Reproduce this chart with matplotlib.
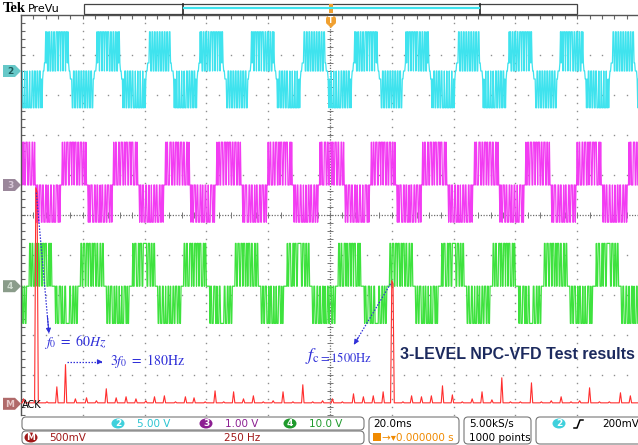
import numpy as np
import matplotlib
matplotlib.use("Agg")
import matplotlib.pyplot as plt
from matplotlib.patches import FancyBboxPatch, Ellipse, Polygon, Rectangle

# scope settings
TIME_PER_DIV_MS = 20.0
SAMPLE_RATE_KS = 5.0
RECORD_POINTS = 1000
FUNDAMENTAL_HZ = 60.0

CH2_VOLTS_PER_DIV = 5.0
CH3_VOLTS_PER_DIV = 1.0
CH4_VOLTS_PER_DIV = 10.0
MATH_MV_PER_DIV = 500.0
MATH_HZ_PER_DIV = 250.0

# ground marker positions (divisions from screen centre)
ch2_offset = 3.6
ch3_offset = 0.75
ch4_offset = -1.78
math_offset = -4.72

# switching state over one positive half cycle, negative half mirrors it
ch2_half = "011212200222002220022200222002220022200222002212100"
ch3_half = "0010011000111001110011101110011100111000110010"
ch4_half = "0001100111000111011100111011100111000110011000"

# volts for each state, positive / negative half
ch2_pos_v = [0.0, 1.0, 4.9]
ch2_neg_v = [0.0, -1.0, -4.6]
ch3_pos_v = [0.0, 1.07]
ch3_neg_v = [0.0, -0.93]
ch4_pos_v = [0.0, 10.7]
ch4_neg_v = [0.0, -9.3]

# start of the positive half cycle in ms (modulo one period)
ch2_start_ms = 7.4
ch3_start_ms = 12.95
ch4_start_ms = 2.15

# FFT of the math channel
fft_peak_hz = [10, 60, 65, 105, 145, 180, 220, 265, 305, 345,
               385, 425, 465, 505, 540, 580, 625, 665, 700, 745,
               785, 820, 860, 900, 940, 980, 1020, 1060, 1100, 1140,
               1180, 1220, 1260, 1300, 1345, 1385, 1425, 1465, 1500, 1505,
               1545, 1580, 1620, 1660, 1705, 1745, 1785, 1825, 1865, 1905,
               1945, 1980, 2020, 2065, 2105, 2145, 2185, 2225, 2260, 2300,
               2340, 2380, 2425, 2465]
fft_peak_mv = [62, 2700, 2650, 25, 212, 490, 62, 75, 38, 188,
               75, 88, 62, 38, 88, 100, 25, 88, 75, 25,
               162, 25, 150, 62, 100, 25, 38, 150, 25, 238,
               25, 38, 62, 25, 125, 88, 100, 150, 1540, 1500,
               25, 100, 88, 100, 225, 112, 25, 62, 150, 50,
               325, 25, 25, 262, 25, 38, 88, 25, 38, 200,
               25, 25, 138, 100]
fft_floor_mv = 12
FFT_BIN_HZ = 5.0

CYAN = "#3fe3ee"
MAGENTA = "#f23cf2"
GREEN = "#3ee23e"
RED = "#ff2e2e"
BLUE = "#3030d8"

plt.rcParams["mathtext.fontset"] = "stix"


def pwm_trace(t_ms, start_ms, half, pos_levels, neg_levels):
    period = 1000.0 / FUNDAMENTAL_HZ
    phase = ((t_ms - start_ms) % period) / (period / 2)
    states = np.array([int(c) for c in half])
    idx = np.minimum(((phase % 1) * len(states)).astype(int), len(states) - 1)
    s = states[idx]
    return np.where(phase >= 1, np.array(neg_levels)[s], np.array(pos_levels)[s])


fig = plt.figure(figsize=(6.38, 4.45), dpi=100)
fig.patch.set_facecolor("white")

rect = [21 / 638, 30 / 445, 618 / 638, 400 / 445]
ax = fig.add_axes(rect)
half_span = 5 * TIME_PER_DIV_MS
ax.set_xlim(-half_span, half_span)
ax.set_ylim(-5, 5)
ax.set_xticks([])
ax.set_yticks([])
for side in ["right", "bottom"]:
    ax.spines[side].set_visible(False)
for side in ["left", "top"]:
    ax.spines[side].set_color("#555555")
    ax.spines[side].set_linewidth(1.0)

# graticule
minor_x = np.arange(-half_span, half_span + 0.1, TIME_PER_DIV_MS / 5)
minor_y = np.arange(-5, 5.01, 0.2)
for gx in np.arange(-4, 5) * TIME_PER_DIV_MS:
    if gx == 0:
        continue
    ax.plot(np.full_like(minor_y, gx), minor_y, ls="none", marker="s",
            ms=1.0, mew=0, color="#8e8e8e")
for gy in range(-4, 5):
    if gy == 0:
        continue
    ax.plot(minor_x, np.full_like(minor_x, gy), ls="none", marker="s",
            ms=1.0, mew=0, color="#8e8e8e")
ax.axhline(0, color="#6e6e6e", lw=0.9, ls=(0, (1, 1.2)))
ax.axvline(0, color="#6e6e6e", lw=0.9, ls=(0, (1, 1.2)))
ax.plot(minor_x, np.zeros_like(minor_x), ls="none", marker="|", ms=4,
        mew=0.7, color="#777777")
ax.plot(np.zeros_like(minor_y), minor_y, ls="none", marker="_", ms=4,
        mew=0.7, color="#777777")
ax.plot(np.full_like(minor_y, -half_span), minor_y, ls="none", marker="_",
        ms=6, mew=0.8, color="#666666")
ax.plot(minor_x, np.full_like(minor_x, 5), ls="none", marker="|",
        ms=6, mew=0.8, color="#666666")

# time traces
t_ms = np.arange(RECORD_POINTS) / SAMPLE_RATE_KS - half_span
ch2 = pwm_trace(t_ms, ch2_start_ms, ch2_half, ch2_pos_v, ch2_neg_v)
ch3 = pwm_trace(t_ms, ch3_start_ms, ch3_half, ch3_pos_v, ch3_neg_v)
ch4 = pwm_trace(t_ms, ch4_start_ms, ch4_half, ch4_pos_v, ch4_neg_v)
ax.plot(t_ms, ch2_offset + ch2 / CH2_VOLTS_PER_DIV, color=CYAN, lw=0.9)
ax.plot(t_ms, ch3_offset + ch3 / CH3_VOLTS_PER_DIV, color=MAGENTA, lw=0.9)
ax.plot(t_ms, ch4_offset + ch4 / CH4_VOLTS_PER_DIV, color=GREEN, lw=0.9)

# FFT math trace on its own scale
axf = fig.add_axes(rect)
axf.patch.set_visible(False)
axf.axis("off")
axf.set_xlim(0, 10 * MATH_HZ_PER_DIV)
axf.set_ylim(-(5 + math_offset) * MATH_MV_PER_DIV, (5 - math_offset) * MATH_MV_PER_DIV)
freqs = np.arange(0, 10 * MATH_HZ_PER_DIV + FFT_BIN_HZ, FFT_BIN_HZ)
mag = np.full(len(freqs), float(fft_floor_mv))
for f, m in zip(fft_peak_hz, fft_peak_mv):
    mag[int(round(f / FFT_BIN_HZ))] = m
axf.plot(freqs, mag, color=RED, lw=0.8)


def dotted_arrow(x0, y0, x1, y1):
    axf.plot([x0, x1], [y0, y1], color=BLUE, lw=0.9, ls=(0, (1.2, 1.2)))
    xs = x1 - 0.12 * (x1 - x0)
    ys = y1 - 0.12 * (y1 - y0)
    axf.annotate("", xy=(x1, y1), xytext=(xs, ys),
                 arrowprops=dict(arrowstyle="-|>", color=BLUE, lw=0.8,
                                 mutation_scale=7, shrinkA=0, shrinkB=0))


dotted_arrow(62, 2640, 113, 880)
axf.text(93, 775, r"$f_0\ =\ 60Hz$", color=BLUE, fontsize=10, ha="left", va="center")
dotted_arrow(185, 525, 330, 525)
axf.text(360, 537, r"$3f_0\ =\ 180\mathrm{Hz}$", color=BLUE, fontsize=10,
         ha="left", va="center")
dotted_arrow(1495, 1500, 1347, 740)
axf.text(1149, 600, r"$f_{\mathrm{c=1500Hz}}$", color=BLUE, fontsize=13,
         ha="left", va="center")
axf.text(1533, 612, "3-LEVEL NPC-VFD Test results", color="#1c2a5e",
         fontsize=11.5, fontweight="bold", family="Liberation Sans",
         ha="left", va="center")

# overlay in image pixels for header, markers and status bar
ov = fig.add_axes([0, 0, 1, 1])
ov.set_xlim(0, 638)
ov.set_ylim(445, 0)
ov.axis("off")

ov.text(3, 9, "Tek", fontsize=10.5, fontweight="bold", family="Liberation Serif",
        ha="left", va="center")
ov.text(28, 8.5, "PreVu", fontsize=8, ha="left", va="center")
ov.add_patch(Rectangle((84, 3.5), 493, 10, fc="white", ec="#444444", lw=0.9))
ov.plot([183, 183], [3.5, 13.5], color="#222222", lw=1.2)
ov.plot([480, 480], [3.5, 13.5], color="#222222", lw=1.2)
ov.plot([184, 479], [8, 8], color=CYAN, lw=1.6)
ov.add_patch(Rectangle((329, 4), 4, 9, fc="#f0a030", ec="none"))
ov.add_patch(FancyBboxPatch((326, 16), 10, 9, boxstyle="round,pad=0,rounding_size=3",
                            fc="#f0a030", ec="none"))
ov.add_patch(Polygon([(328, 25), (334, 25), (331, 28)], fc="#f0a030", ec="none"))
ov.text(331, 20.5, "T", color="white", fontsize=5.5, fontweight="bold",
        ha="center", va="center")


def channel_marker(off_div, label, fc, tc):
    y = 215 - off_div * 40
    ov.add_patch(Polygon([(3, y - 6), (15, y - 6), (21, y), (15, y + 6), (3, y + 6)],
                         fc=fc, ec="none"))
    ov.text(10, y + 0.5, label, color=tc, fontsize=6.5, fontweight="bold",
            ha="center", va="center")


channel_marker(ch2_offset, "2", "#66c8c8", "#1f5c5c")
channel_marker(ch3_offset, "3", "#9a879a", "#d8c8d8")
channel_marker(ch4_offset, "4", "#8a9c8a", "#d0dcd0")
channel_marker(math_offset, "M", "#b06a6a", "#e8caca")
ov.text(22, 405, "ACK", fontsize=7, ha="left", va="center")


def rbox(x0, y0, x1, y1):
    ov.add_patch(FancyBboxPatch((x0, y0), x1 - x0, y1 - y0,
                                boxstyle="round,pad=0,rounding_size=4",
                                fc="white", ec="#777777", lw=0.8))


def badge(x, y, label, fc):
    ov.add_patch(Ellipse((x, y), 13, 10, fc=fc, ec="none"))
    ov.text(x, y + 0.5, label, color="white", fontsize=6.5, fontweight="bold",
            ha="center", va="center")


rbox(22, 417, 364, 430)
rbox(22, 431, 364, 444)
rbox(369, 417, 459, 444)
rbox(464, 417, 531, 444)
rbox(536, 417, 645, 444)

badge(118, 423.5, "2", "#3fd0dc")
ov.text(137, 424, "5.00 V", color="#2cc4d2", fontsize=7.5, ha="left", va="center")
badge(206, 423.5, "3", "#8c1f92")
ov.text(225, 424, "1.00 V", color="#8c1f92", fontsize=7.5, ha="left", va="center")
badge(290, 423.5, "4", "#1f9a2c")
ov.text(309, 424, "10.0 V", color="#1f9a2c", fontsize=7.5, ha="left", va="center")
badge(31, 437.5, "M", "#a01818")
ov.text(49, 438, "500mV", color="#a01818", fontsize=7.5, ha="left", va="center")
ov.text(224, 438, "250 Hz", color="#a01818", fontsize=7.5, ha="left", va="center")

ov.text(373, 424, "20.0ms", fontsize=7.5, ha="left", va="center")
ov.add_patch(Rectangle((373, 433), 8, 8, fc="#f08a00", ec="none"))
ov.text(382, 438, "\u2192\u25be0.000000 s", color="#f08a00", fontsize=7.5,
        ha="left", va="center")
ov.text(469, 424, "5.00kS/s", fontsize=7.5, ha="left", va="center")
ov.text(469, 438, "1000 points", fontsize=7.5, ha="left", va="center")
badge(559, 423.5, "2", "#3fd0dc")
ov.plot([574, 577, 580, 583], [428, 428, 420, 420], color="black", lw=1.1)
ov.text(602, 424, "200mV", fontsize=7.5, ha="left", va="center")

fig.savefig("out.png", dpi=100)
